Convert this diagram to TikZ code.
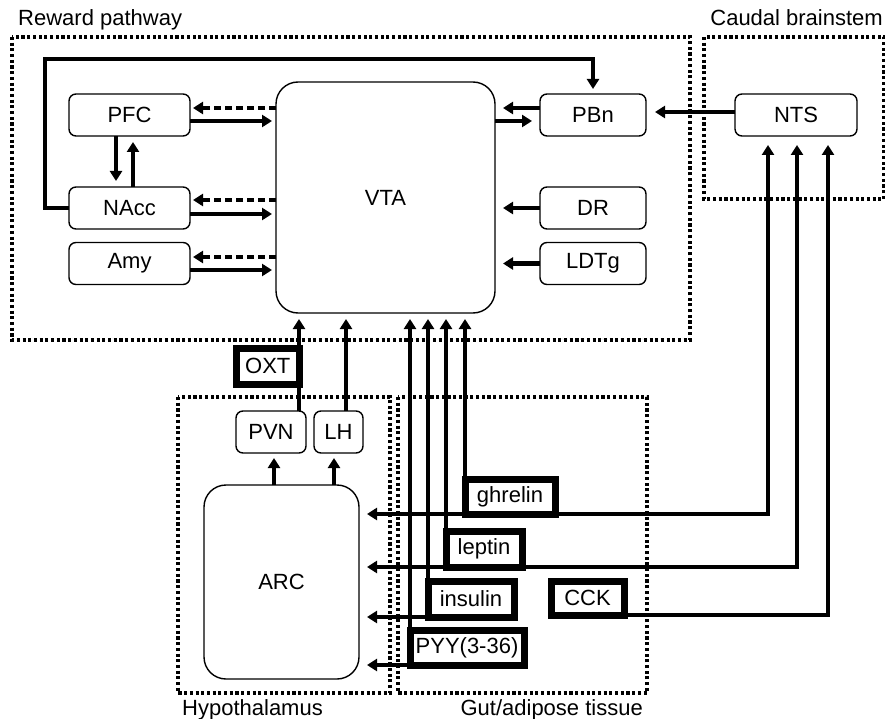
\documentclass[tikz,border=0pt]{standalone}
\usepackage{fontspec}
\setmainfont{Liberation Sans}
\usetikzlibrary{arrows.meta}

\begin{document}
\begin{tikzpicture}[x=1pt, y=-1pt, font=\fontsize{22}{26}\selectfont,
  >={Triangle[width=12pt,length=10pt]},
  area/.style={line width=3.2pt, dash pattern=on 3.1pt off 2.6pt},
  region/.style={draw, rounded corners=7pt, line width=1.4pt, fill=white, inner sep=0pt, outer sep=0pt, minimum height=42pt},
  core/.style={region, rounded corners=22pt},
  hormone/.style={draw, line width=7pt, fill=white, inner sep=0pt, outer sep=0pt, minimum height=35pt},
  sig/.style={->, line width=4.8pt, shorten >=6pt},
  fb/.style={sig, dash pattern=on 7pt off 4pt, shorten >=3pt}]
\useasboundingbox (0,0) rectangle (885,719);

\draw[area] (12,37) rectangle (690,340);
\draw[area] (704,37) rectangle (884,199);
\draw[area] (178,397) rectangle (390,693);
\draw[area] (398,397) rectangle (647,693);
\node[anchor=base west, inner sep=0pt] (lblreward) at (18,25.5) {Reward pathway};
\node[anchor=base east, inner sep=0pt] (lblcaudal) at (883,25.5) {Caudal brainstem};
\node[anchor=base west, inner sep=0pt] (lblhypo) at (182,715) {Hypothalamus};
\node[anchor=base east, inner sep=0pt] (lblgut) at (643,715) {Gut/adipose tissue};

\node[region, minimum width=121pt] (pfc) at (129.5,115) {PFC};
\node[region, minimum width=121pt] (nacc) at (129.5,208) {NAcc};
\node[region, minimum width=121pt] (amy) at (129.5,263.5) {Amy};
\node[core, minimum width=219pt, minimum height=231pt] (vta) at (385.5,197.5) {VTA};
\node[region, minimum width=106pt] (pbn) at (593,115) {PBn};
\node[region, minimum width=106pt] (dr) at (593,208) {DR};
\node[region, minimum width=106pt] (ldtg) at (593,263.5) {LDTg};
\node[region, minimum width=122pt] (nts) at (796,115) {NTS};
\node[region, minimum width=70pt] (pvn) at (271,432) {PVN};
\node[region, minimum width=49pt] (lh) at (338.5,432) {LH};
\node[core, minimum width=155pt, minimum height=194pt] (arc) at (281.5,582) {ARC};
\node[hormone, minimum width=62.5pt, minimum height=36pt] (oxt) at (267.75,366) {OXT};
\node[hormone, minimum width=90pt] (ghrelin) at (510,496.5) {ghrelin};
\node[hormone, minimum width=76pt, minimum height=36pt] (leptin) at (484,549) {leptin};
\node[hormone, minimum width=86pt, minimum height=36pt] (insulin) at (471,599) {insulin};
\node[hormone, minimum width=114pt] (pyy) at (467,647.5) {PYY(3-36)};
\node[hormone, minimum width=73pt, minimum height=34pt] (cck) at (587.5,598) {CCK};

\coordinate (loop) at (45,59);
\draw[sig, shorten >=5pt] (nacc.west) -| (loop) -| (pbn.north);
\draw[sig] ([xshift=-13.5pt]pfc.south) -- ([xshift=-13.5pt]nacc.north);
\draw[sig] ([xshift=3.5pt]nacc.north) -- ([xshift=3.5pt]pfc.south);

\draw[fb] ([yshift=7pt]vta.west |- pfc.east) -- ([yshift=7pt]pfc.east);
\draw[sig, shorten >=4pt] ([yshift=-6pt]pfc.east) -- ([yshift=-6pt]vta.west |- pfc.east);
\draw[fb] ([yshift=8pt]vta.west |- nacc.east) -- ([yshift=8pt]nacc.east);
\draw[sig, shorten >=4pt] ([yshift=-6pt]nacc.east) -- ([yshift=-6pt]vta.west |- nacc.east);
\draw[fb] ([yshift=6.5pt]vta.west |- amy.east) -- ([yshift=6.5pt]amy.east);
\draw[sig, shorten >=4pt] ([yshift=-6.5pt]amy.east) -- ([yshift=-6.5pt]vta.west |- amy.east);

\draw[sig, shorten >=8pt] ([yshift=7pt]pbn.west) -- ([yshift=7pt]vta.east |- pbn.west);
\draw[sig, shorten >=8pt] ([yshift=-6pt]vta.east |- pbn.west) -- ([yshift=-6pt]pbn.west);
\draw[sig, shorten >=9pt] ([yshift=3pt]nts.west) -- ([yshift=3pt]pbn.east);
\draw[sig, shorten >=8pt] (dr.west) -- (vta.east |- dr.west);
\draw[sig, shorten >=8pt] (ldtg.west) -- (vta.east |- ldtg.west);

\draw[sig, shorten >=5pt] ([xshift=3pt]pvn.south |- arc.north) -- ([xshift=3pt]pvn.south);
\draw[sig, shorten >=5pt] ([xshift=-4.5pt]lh.south |- arc.north) -- ([xshift=-4.5pt]lh.south);
\draw[sig] (oxt.east |- pvn.north) -- (oxt.east |- vta.south);
\draw[sig] ([xshift=7.5pt]lh.north) -- ([xshift=7.5pt]lh.north |- vta.south);

\draw[sig] (ghrelin.north west) -- (ghrelin.north west |- vta.south);
\draw[sig] (leptin.north west) -- (leptin.north west |- vta.south);
\draw[sig] (insulin.north west) -- (insulin.north west |- vta.south);
\draw[sig] (pyy.north west) -- (pyy.north west |- vta.south);
\draw[sig, shorten >=8pt] (ghrelin.south west) -- (arc.east |- ghrelin.south west);
\draw[sig, shorten >=8pt] (leptin.south west) -- (arc.east |- leptin.south west);
\draw[sig, shorten >=8pt] (insulin.south west) -- (arc.east |- insulin.south west);
\draw[sig, shorten >=8pt] (pyy.south west) -- (arc.east |- pyy.south west);
\draw[sig, shorten >=9pt] (ghrelin.south east) -| ([xshift=-28pt]nts.south);
\draw[sig, shorten >=9pt] (leptin.south east) -| ([xshift=1pt]nts.south);
\draw[sig, shorten >=9pt] (cck.south east) -| ([xshift=32pt]nts.south);
\end{tikzpicture}
\end{document}
